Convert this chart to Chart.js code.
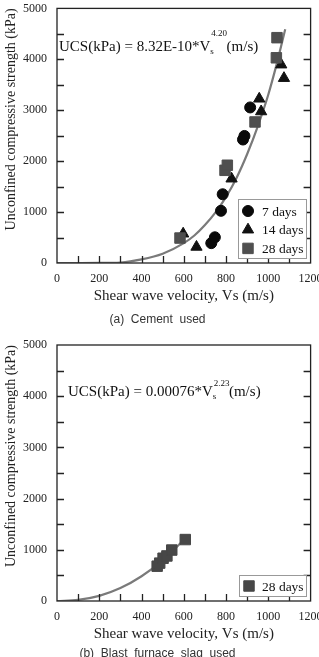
<!DOCTYPE html>
<html lang="en">
<head>
  <meta charset="UTF-8">
  <title>UCS vs shear wave velocity</title>
  <script src="https://cdn.jsdelivr.net/npm/chart.js"></script>
  <style>
    body { margin: 0; background: #fff; width: 319px; height: 657px; overflow: hidden; position: relative; }
    canvas { position: absolute; left: 0; }
    #chartA { top: 0; }
    #chartB { top: 330px; }
    .caption { position: absolute; left: 0; width: 319px; text-align: center; font: 12px "Liberation Sans", Arial, sans-serif; color: #333; white-space: pre; line-height: 14px; }
  </style>
</head>
<body>
  <canvas id="chartA" width="319" height="330"></canvas>
  <div class="caption" style="top:312px; left:-2px">(a)  Cement  used</div>
  <canvas id="chartB" width="319" height="327"></canvas>
  <div class="caption" style="top:646px; left:-2px">(b)  Blast  furnace  slag  used</div>

  <script>
    // axis text
    const xTitle = 'Shear wave velocity, Vs (m/s)';
    const yTitle = 'Unconfined compressive strength (kPa)';
    const xTicks = [0, 200, 400, 600, 800, 1000, 1200];
    const yTicks = [0, 1000, 2000, 3000, 4000, 5000];

    // (a) cement - measured points
    const vs7 = [730, 747, 776, 784, 880, 887, 914];
    const ucs7 = [390, 505, 1025, 1350, 2425, 2495, 3055];
    const vs14 = [597, 660, 826, 957, 966, 1061, 1074];
    const ucs14 = [575, 315, 1655, 3225, 2975, 3895, 3630];
    const vs28 = [582, 795, 806, 937, 1038, 1041];
    const ucs28 = [490, 1820, 1920, 2770, 4030, 4425];
    // (a) fitted curve
    const fitAx = [0, 100, 200, 300, 400, 500, 600, 650, 700, 750, 800, 850, 900, 950, 1000, 1040, 1080];
    const fitAy = [0, 0, 1, 10, 70, 180, 390, 540, 745, 995, 1300, 1675, 2140, 2685, 3310, 3915, 4590];

    // (b) blast furnace slag - 28 days
    const vsB = [474, 486, 502, 520, 543, 607];
    const ucsB = [680, 740, 835, 880, 995, 1200];
    const fitBx = [0, 100, 200, 300, 400, 500, 610];
    const fitBy = [0, 22, 100, 252, 483, 793, 1236];

    const serif = "'Liberation Serif', 'Times New Roman', serif";
    const pts = (xs, ys) => xs.map((x, i) => ({ x: x, y: ys[i] }));

    const frameTicks = {
      id: 'frameTicks',
      afterDatasetsDraw(chart, args, o) {
        const { ctx, chartArea: a, scales: { x, y } } = chart;
        ctx.save();
        ctx.strokeStyle = '#222';
        ctx.lineWidth = 1.3;
        ctx.strokeRect(a.left, a.top, a.right - a.left, a.bottom - a.top);
        ctx.beginPath();
        for (let v = x.min + o.xStep; v < x.max; v += o.xStep) {
          const px = Math.round(x.getPixelForValue(v)) + 0.5;
          ctx.moveTo(px, a.bottom);
          ctx.lineTo(px, a.bottom - o.len);
        }
        for (let v = y.min + o.yStep; v < y.max; v += o.yStep) {
          const py = Math.round(y.getPixelForValue(v)) + 0.5;
          ctx.moveTo(a.left, py);
          ctx.lineTo(a.left + o.len, py);
          ctx.moveTo(a.right, py);
          ctx.lineTo(a.right - o.len, py);
        }
        ctx.stroke();
        ctx.restore();
      }
    };

    const legendBox = {
      id: 'legendBox',
      afterDraw(chart, args, o) {
        const ctx = chart.ctx;
        const items = chart.data.datasets.filter(d => d.label);
        ctx.save();
        ctx.fillStyle = '#fff';
        ctx.strokeStyle = '#999';
        ctx.lineWidth = 1;
        ctx.fillRect(o.x, o.y, o.w, o.h);
        ctx.strokeRect(o.x + 0.5, o.y + 0.5, o.w, o.h);
        items.forEach((ds, i) => {
          const cy = o.y + o.first + i * o.row;
          ctx.fillStyle = ds.backgroundColor;
          ctx.strokeStyle = ds.borderColor;
          ctx.lineWidth = 1;
          Chart.helpers.drawPoint(ctx, { pointStyle: ds.pointStyle, radius: ds.pointRadius, borderWidth: 1, rotation: 0 }, o.x + o.mark, cy);
          ctx.fillStyle = '#111';
          ctx.font = '13.5px ' + serif;
          ctx.textBaseline = 'middle';
          ctx.fillText(ds.label, o.x + o.text, cy + 1);
        });
        ctx.restore();
      }
    };

    const equation = {
      id: 'equation',
      afterDraw(chart, args, o) {
        const ctx = chart.ctx;
        ctx.save();
        ctx.fillStyle = '#111';
        ctx.textBaseline = 'alphabetic';
        ctx.font = o.size + 'px ' + serif;
        ctx.fillText(o.lead, o.x, o.y);
        let cx = o.x + ctx.measureText(o.lead).width;
        ctx.font = (o.size * 0.6) + 'px ' + serif;
        ctx.fillText(o.sub, cx, o.y + 3);
        ctx.fillText(o.sup, cx + 1, o.y - o.rise);
        cx += ctx.measureText(o.sup).width + 0.5;
        ctx.font = o.size + 'px ' + serif;
        ctx.fillText(o.tail, cx, o.y);
        ctx.restore();
      }
    };

    function scales() {
      return {
        x: {
          type: 'linear', min: 0, max: 1200,
          afterBuildTicks: s => { s.ticks = xTicks.map(v => ({ value: v })); },
          ticks: { padding: 9, color: '#222', font: { family: serif, size: 12 }, maxRotation: 0, autoSkip: false, callback: v => String(v) },
          grid: { display: false, drawTicks: false },
          border: { display: false },
          title: { display: true, text: xTitle, color: '#222', font: { family: serif, size: 15 }, padding: { top: 0, bottom: 3 } },
          afterFit: s => { s.height = 45; s.paddingLeft = 0; s.paddingRight = 0; }
        },
        y: {
          type: 'linear', min: 0, max: 5000,
          afterBuildTicks: s => { s.ticks = yTicks.map(v => ({ value: v })); },
          ticks: { padding: 10, color: '#222', font: { family: serif, size: 12 }, callback: v => String(v) },
          grid: { display: false, drawTicks: false },
          border: { display: false },
          title: { display: true, text: yTitle, align: 'end', color: '#222', font: { family: serif, size: 14 }, padding: { top: 3, bottom: 0 } },
          afterFit: s => { s.width = 57; s.paddingTop = 0; s.paddingBottom = 0; }
        }
      };
    }

    const marker = (label, xs, ys, style, radius, color, order) => ({
      label: label, data: pts(xs, ys), pointStyle: style, pointRadius: radius,
      backgroundColor: color, borderColor: color, borderWidth: 1, showLine: false, order: order
    });
    const fitLine = (xs, ys) => ({
      label: '', data: pts(xs, ys), showLine: true, pointRadius: 0, borderColor: '#7a7a7a',
      borderWidth: 2.2, cubicInterpolationMode: 'monotone', order: 9
    });

    new Chart(document.getElementById('chartA'), {
      type: 'scatter',
      data: {
        datasets: [
          marker('7 days', vs7, ucs7, 'circle', 5.5, '#0a0a0a', 2),
          marker('14 days', vs14, ucs14, 'triangle', 6.5, '#111', 1),
          marker('28 days', vs28, ucs28, 'rect', 7.4, '#4f4f4f', 0),
          fitLine(fitAx, fitAy)
        ]
      },
      options: {
        responsive: false, animation: false, events: [],
        layout: { padding: { top: 8, right: 8, bottom: 22, left: 0 } },
        scales: scales(),
        plugins: {
          legend: { display: false }, tooltip: { enabled: false },
          frameTicks: { xStep: 100, yStep: 500, len: 7 },
          legendBox: { x: 238, y: 199, w: 68, h: 59, first: 12, row: 18.7, mark: 10, text: 24 },
          equation: { x: 59, y: 51, size: 15, lead: 'UCS(kPa) = 8.32E-10*V', sub: 's', sup: '4.20', rise: 15, tail: '(m/s)' }
        }
      },
      plugins: [frameTicks, legendBox, equation]
    });

    new Chart(document.getElementById('chartB'), {
      type: 'scatter',
      data: {
        datasets: [
          marker('28 days', vsB, ucsB, 'rect', 7.4, '#474747', 0),
          fitLine(fitBx, fitBy)
        ]
      },
      options: {
        responsive: false, animation: false, events: [],
        layout: { padding: { top: 15, right: 8, bottom: 11, left: 0 } },
        scales: scales(),
        plugins: {
          legend: { display: false }, tooltip: { enabled: false },
          frameTicks: { xStep: 100, yStep: 500, len: 7 },
          legendBox: { x: 239, y: 245, w: 67, h: 21, first: 11, row: 18.7, mark: 10, text: 23 },
          equation: { x: 68, y: 66, size: 15, lead: 'UCS(kPa) = 0.00076*V', sub: 's', sup: '2.23', rise: 10, tail: '(m/s)' }
        }
      },
      plugins: [frameTicks, legendBox, equation]
    });
  </script>
</body>
</html>
